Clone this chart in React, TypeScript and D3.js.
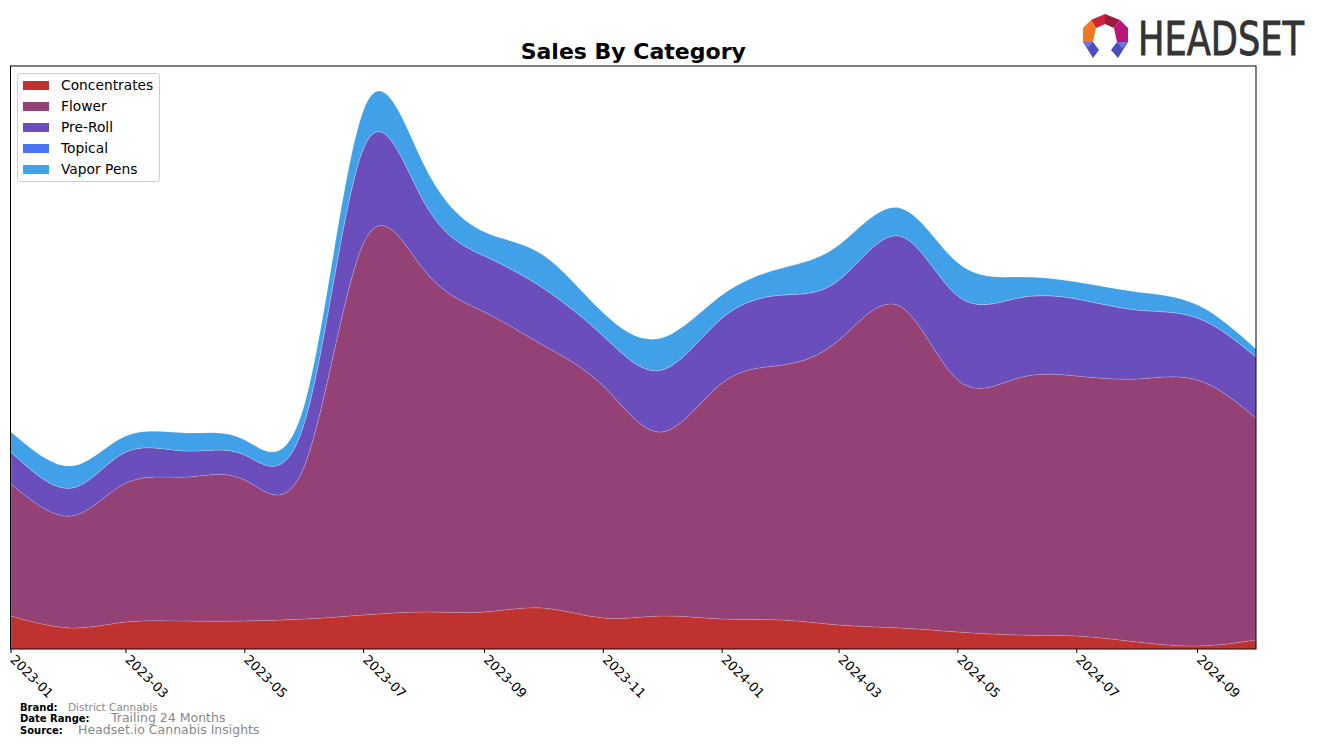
import React from "react";
import * as d3 from "d3";

const months = [
  "2023-01", "2023-02", "2023-03", "2023-04", "2023-05", "2023-06", "2023-07", "2023-08",
  "2023-09", "2023-10", "2023-11", "2023-12", "2024-01", "2024-02", "2024-03", "2024-04",
  "2024-05", "2024-06", "2024-07", "2024-08", "2024-09", "2024-10",
];
const categories = ["Concentrates", "Flower", "Pre-Roll", "Topical", "Vapor Pens"];
const concentrates = [33, 21, 27, 28, 28, 30, 34, 37, 37, 41, 31, 33, 30, 29, 24, 21, 17, 14, 13, 7, 3, 9];
const flower = [132, 112, 139, 144, 141, 155, 372, 342, 300, 263, 232, 184, 236, 255, 285, 322, 252, 257, 260, 263, 266, 222];
const preRoll = [32, 28, 31, 26, 25, 44, 95, 68, 56, 57, 50, 62, 65, 70, 60, 70, 84, 80, 77, 69, 62, 61];
const topical = [0, 0, 0, 0, 0, 0, 0, 0, 0, 0, 0, 0, 0, 0, 0, 0, 0, 0, 0, 0, 0, 0];
const vaporPens = [20, 22, 16, 18, 15, 18, 38, 37, 24, 33, 23, 32, 23, 27, 35, 28, 33, 21, 17, 18, 13, 8];
const colors = ["#c0322f", "#944276", "#6a4fbc", "#4a74f6", "#40a0e8"];

const W = 1320, H = 746;
const L = 10.5, R = 1256, T = 66, B = 649;

export default function App() {
  const parse = d3.timeParse("%Y-%m");
  const dates = months.map((m) => parse(m) as Date);
  const seriesVals = [concentrates, flower, preRoll, topical, vaporPens];
  const rows = dates.map((d, i) => {
    const o: any = { date: d };
    categories.forEach((c, k) => (o[c] = seriesVals[k][i]));
    return o;
  });
  const stack = d3.stack<any>().keys(categories);
  const stacked = stack(rows);
  const x = d3.scaleTime().domain([dates[0], dates[dates.length - 1]]).range([11, R]);
  const y = d3.scaleLinear().domain([0, 583]).range([B, T]);
  const area = d3
    .area<any>()
    .x((d) => x(d.data.date))
    .y0((d) => y(d[0]))
    .y1((d) => y(d[1]))
    .curve(d3.curveNatural);
  const ticks = x.ticks(d3.timeMonth.every(2) as any);
  const fmt = d3.timeFormat("%Y-%m");
  const font = "DejaVu Sans, sans-serif";

  return (
    <svg width={W} height={H} style={{ position: "absolute", left: 0, top: 0 }} fontFamily={font}>
      <rect x={0} y={0} width={W} height={H} fill="white" />
      <defs>
        <clipPath id="plot">
          <rect x={L} y={T} width={R - L} height={B - T} />
        </clipPath>
      </defs>
      <text x={(L + R) / 2} y={59} textAnchor="middle" fontSize={22} fontWeight="bold" fill="#000">
        Sales By Category
      </text>
      <g clipPath="url(#plot)">
        {stacked.map((s, k) => (
          <path key={k} d={area(s) as string} fill={colors[k]} stroke="white" strokeOpacity={0.25} strokeWidth={0.6} />
        ))}
      </g>
      <rect x={L} y={T} width={R - L} height={B - T} fill="none" stroke="#000" strokeWidth={1} />
      {ticks.map((t, i) => (
        <g key={i}>
          <line x1={x(t)} x2={x(t)} y1={B} y2={B + 4} stroke="#000" />
          <text
            transform={`translate(${x(t) + 1},${B + 9}) rotate(45)`}
            fontSize={13}
            fill="#000"
            dominantBaseline="middle"
          >
            {fmt(t)}
          </text>
        </g>
      ))}
      {/* legend */}
      <rect x={17.5} y={73.5} width={142} height={108} rx={3} fill="white" stroke="#cccccc" />
      {categories.map((c, k) => (
        <g key={c}>
          <rect x={23} y={81 + k * 21} width={26} height={9} fill={colors[k]} />
          <text x={61} y={86 + k * 21} fontSize={13.8} dominantBaseline="middle" fill="#000">
            {c}
          </text>
        </g>
      ))}
      {/* footer */}
      <text x={20} y={711} fontSize={10} fontWeight="bold">Brand:</text>
      <text x={68} y={711} fontSize={10.5} fill="#888">District Cannabis</text>
      <text x={20} y={722} fontSize={10} fontWeight="bold">Date Range:</text>
      <text x={111} y={722} fontSize={12.5} fill="#888">Trailing 24 Months</text>
      <text x={20} y={734} fontSize={10} fontWeight="bold">Source:</text>
      <text x={78} y={734} fontSize={12.5} fill="#888">Headset.io Cannabis Insights</text>
      {/* logo */}
      <g>
        <polygon points="1091,20 1105,14 1105,24 1096,28" fill="#d0203a" />
        <polygon points="1105,14 1120,20 1114,28 1105,24" fill="#9c1b3c" />
        <polygon points="1120,20 1128,28 1128,42 1117,42 1114,28" fill="#b8177a" />
        <polygon points="1091,20 1096,28 1093,42 1083,42 1083,28" fill="#f07a22" />
        <polygon points="1083,42 1093,42 1099,50 1093,58" fill="#4a4fc0" />
        <polygon points="1117,42 1128,42 1118,58 1111,50" fill="#4a4fc0" />
        <polygon points="1083,42 1093,42 1088,48" fill="#6f73e0" />
        <polygon points="1117,42 1128,42 1122,48" fill="#6f73e0" />
        <text
          x={1138}
          y={55}
          fontSize={46}
          fontFamily="DejaVu Sans Condensed, DejaVu Sans, sans-serif"
          fill="#333"
          stroke="#333"
          strokeWidth={0.8}
          textLength={166}
          lengthAdjust="spacingAndGlyphs"
        >
          HEADSET
        </text>
      </g>
    </svg>
  );
}
